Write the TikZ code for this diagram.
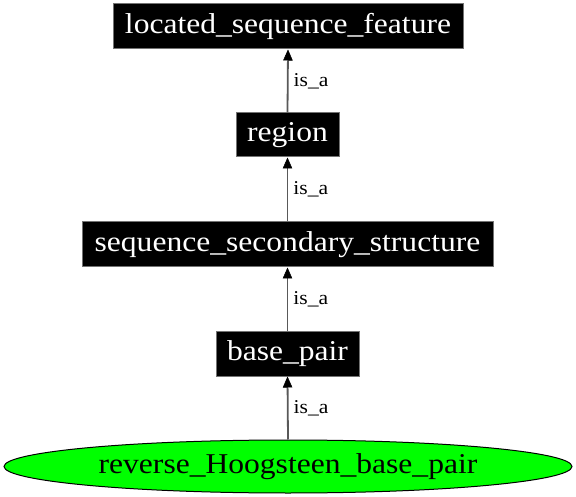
\documentclass[tikz,border=0pt]{standalone}
\usepackage{fontspec}
\setmainfont{Liberation Serif}
\newfontfamily\wideserif[FakeStretch=1.1]{Liberation Serif}
\usetikzlibrary{shapes.geometric,arrows.meta}
\begin{document}
\begin{tikzpicture}[x=1pt,y=-1pt,
  nodefont/.style={font=\wideserif\fontsize{28.7}{28.7}\selectfont,text height=19.5pt,text depth=6.3pt},
  termbox/.style={nodefont,draw=black!55,fill=black,text=white,rectangle,inner sep=0pt,line width=1pt},
  leaf/.style={nodefont,draw=black,fill=green,ellipse,inner sep=0pt,line width=1pt},
  isa/.style={draw=black!65,line width=1.8pt,-{Triangle[length=11pt,width=9.5pt,line width=0.5pt,color=black,fill=black]}},
  lbl/.style={right,inner sep=0pt,xshift=5pt,font=\wideserif\fontsize{19.6}{19.6}\selectfont,text=black}]
\useasboundingbox (0,0) rectangle (576,497);
\node[termbox,minimum width=350pt,minimum height=45pt] (lsf) at (288,26.5) {located\_sequence\_feature};
\node[termbox,minimum width=103pt,minimum height=44pt] (reg) at (287.5,135) {region};
\node[termbox,minimum width=411pt,minimum height=45pt] (sss) at (287.5,244.5) {sequence\_secondary\_structure};
\node[termbox,minimum width=143pt,minimum height=45pt] (bp) at (287.5,353.5) {base\_pair};
\node[leaf,minimum width=568pt,minimum height=53pt] (rhb) at (288,466.5) {reverse\_Hoogsteen\_base\_pair};
\draw[isa] (reg.north) -- node[lbl] {is\_a} (lsf.south);
\draw[isa] (sss.north) -- node[lbl] {is\_a} (reg.south);
\draw[isa] (bp.north) -- node[lbl] {is\_a} (sss.south);
\draw[isa] (rhb.north) -- node[lbl] {is\_a} (bp.south);
\end{tikzpicture}
\end{document}
